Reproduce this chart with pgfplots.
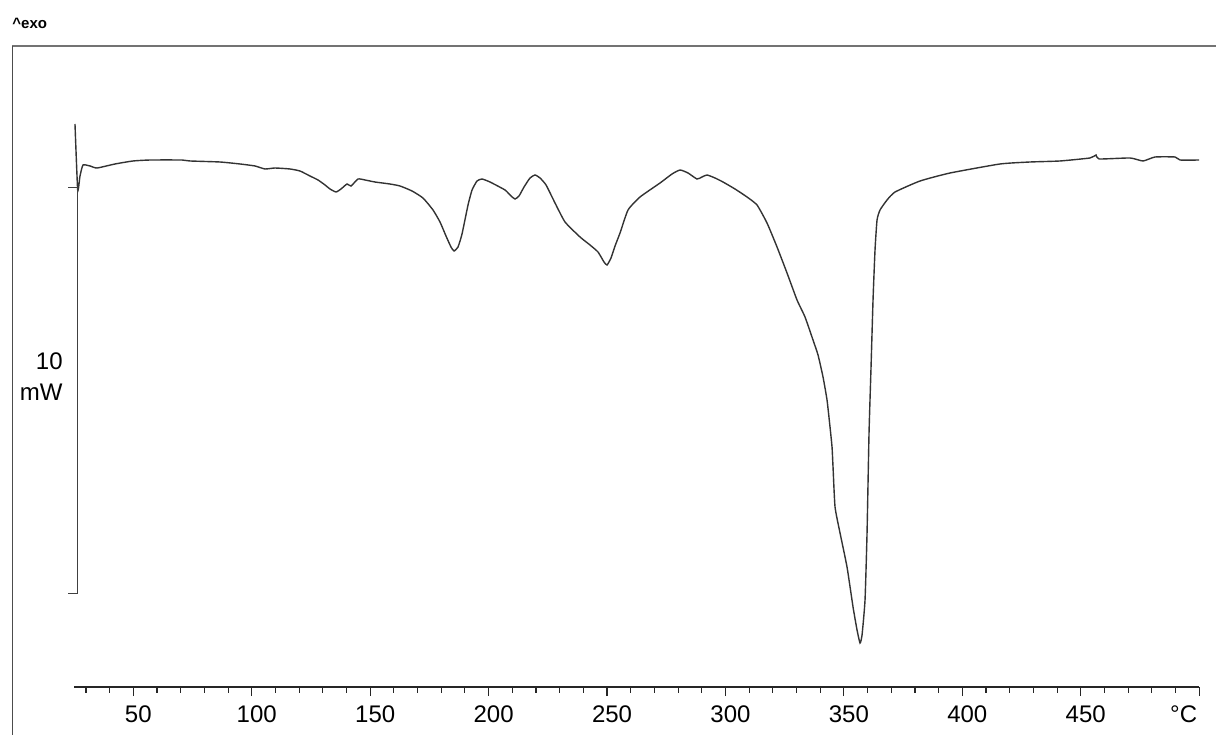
\documentclass[border=0pt]{standalone}
\usepackage{fontspec}
\setmainfont{Liberation Sans}
\usepackage{pgfplots}
\pgfplotsset{compat=1.18}
\pgfplotstableread{
T y
25.37 13.867
26.51 12.241
27.49 12.586
28.75 12.857
31.71 12.833
34.66 12.783
42.26 12.882
49.86 12.956
57.04 12.980
70.55 12.980
73.93 12.956
86.60 12.931
95.04 12.882
101.37 12.833
105.59 12.759
109.82 12.783
116.15 12.759
120.37 12.709
124.59 12.586
127.97 12.488
130.93 12.365
133.04 12.266
135.57 12.192
137.68 12.266
140.22 12.389
141.91 12.340
144.86 12.512
147.82 12.488
152.04 12.438
158.37 12.389
162.59 12.340
167.66 12.217
172.30 12.044
176.53 11.749
179.48 11.453
182.01 11.108
184.12 10.837
185.39 10.739
187.08 10.837
188.77 11.158
191.31 11.872
193.00 12.241
195.10 12.463
197.22 12.512
200.59 12.438
206.93 12.241
209.46 12.094
211.15 12.020
212.84 12.094
214.95 12.315
217.48 12.537
219.59 12.611
221.71 12.537
224.24 12.365
228.04 11.921
232.26 11.453
238.59 11.084
242.81 10.887
246.19 10.714
248.72 10.468
249.99 10.394
251.68 10.567
253.37 10.862
255.48 11.182
258.86 11.749
263.92 12.069
272.37 12.414
277.43 12.635
280.81 12.734
284.19 12.660
287.99 12.512
290.10 12.562
292.21 12.611
295.59 12.537
298.97 12.438
304.03 12.266
309.10 12.069
313.32 11.872
317.54 11.429
321.77 10.837
325.99 10.197
330.21 9.532
333.59 9.113
336.96 8.547
339.08 8.177
341.19 7.635
342.88 7.069
344.14 6.404
344.99 5.911
345.41 5.419
346.26 4.433
348.37 3.793
351.32 2.956
353.86 1.970
355.55 1.404
356.81 1.084
357.66 1.281
358.92 2.143
359.77 3.793
360.61 6.256
361.46 7.882
362.30 9.532
363.14 10.764
363.99 11.502
365.25 11.749
368.21 11.995
371.59 12.192
382.14 12.463
394.81 12.660
415.92 12.882
428.58 12.931
441.21 12.956
453.91 13.030
456.45 13.103
457.72 13.005
470.81 13.030
476.30 12.956
481.36 13.054
489.81 13.054
491.92 12.980
500.00 12.980
}\dsc
\begin{document}
\begin{tikzpicture}
\begin{axis}[
  scale only axis,
  width=562.5pt, height=320.5pt,
  xmin=25, xmax=500, ymin=0, ymax=15.788,
  axis x line*=bottom, axis y line=none,
  clip=false,
  xtick={50,100,...,450},
  xticklabels={50,100,150,200,250,300,350,400,450},
  minor xtick={30,40,...,490},
  tick align=outside,
  major tick length=4.5pt, minor tick length=2.8pt,
  every tick/.style={black!85, line width=0.55pt},
  x axis line style={black!85, line width=0.65pt},
  xticklabel style={font=\fontsize{12}{14}\selectfont, xshift=2.5pt, yshift=-1.5pt},
  extra x ticks={500},
  extra x tick labels={°C},
  extra x tick style={xticklabel style={anchor=north east, xshift=0pt}},
]
\addplot[black!80, line width=0.7pt, smooth, tension=0.3] table[x=T, y=y] {\dsc};
\draw[black!55, line width=1pt] (axis cs:-1.224,15.788) -- (axis cs:507.1,15.788);
\draw[black!70, line width=0.5pt] (axis cs:-1.224,15.788) -- (axis cs:-1.224,-1.182);
\draw[black!75, line width=0.5pt] (axis cs:22.42,12.315) -- (axis cs:26.35,12.315) -- (axis cs:26.35,2.315) -- (axis cs:22.42,2.315);
\node[anchor=east, align=right, inner sep=0pt, font=\fontsize{12}{15.5}\selectfont] at (axis cs:20.31,7.635) {10\\mW};
\node[anchor=west, inner sep=0pt, font=\fontsize{7.5}{9}\selectfont\bfseries] at (axis cs:-1.224,16.355) {\textasciicircum exo};
\coordinate (BB1) at (axis cs:-6.291,-1.182);
\coordinate (BB2) at (axis cs:507.1,16.921);
\end{axis}
\pgfresetboundingbox
\path (BB1) rectangle (BB2);
\end{tikzpicture}
\end{document}
